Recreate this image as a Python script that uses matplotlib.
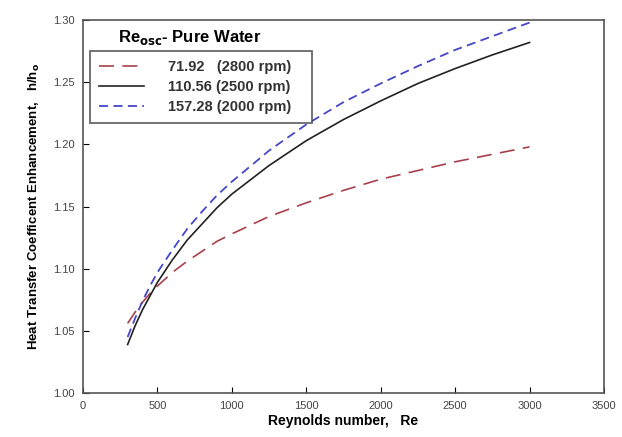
import numpy as np
import matplotlib.pyplot as plt

# Donnees
re = [300, 350, 400, 450, 500, 600, 700, 800, 900, 1000, 1250, 1500, 1750, 2000, 2250, 2500, 2750, 3000]
h_7192 = [1.056, 1.065, 1.073, 1.080, 1.086, 1.097, 1.106, 1.114, 1.122, 1.128, 1.142, 1.153, 1.163,
          1.172, 1.179, 1.186, 1.192, 1.198]
h_11056 = [1.039, 1.054, 1.067, 1.078, 1.089, 1.107, 1.123, 1.136, 1.149, 1.160, 1.183, 1.203, 1.220,
           1.235, 1.249, 1.261, 1.272, 1.282]
h_15728 = [1.045, 1.060, 1.074, 1.086, 1.097, 1.115, 1.132, 1.146, 1.159, 1.170, 1.195, 1.216, 1.234,
           1.249, 1.263, 1.276, 1.287, 1.298]
labels = ["71.92   (2800 rpm)   ", "110.56 (2500 rpm)   ", "157.28 (2000 rpm)   "]

plt.rcParams['font.family'] = ['Liberation Sans', 'DejaVu Sans']

fig = plt.figure(figsize=(6.22, 4.37), dpi=100)
ax = fig.add_axes([0.1334, 0.1007, 0.8376, 0.8533])

l1, = ax.plot(re, h_7192, color="#a8414c", lw=1.2, dashes=(9, 5))
l2, = ax.plot(re, h_11056, color="#222222", lw=1.2)
l3, = ax.plot(re, h_15728, color="#4646c8", lw=1.3, dashes=(5, 3))

ax.set_xlim(0, 3500)
ax.set_ylim(1.00, 1.30)
ax.set_xticks(np.arange(0, 3501, 500))
ax.set_yticks(np.arange(1.00, 1.301, 0.05))
ax.set_yticklabels(["%.2f" % v for v in np.arange(1.00, 1.301, 0.05)])
ax.tick_params(direction="in", length=4, width=0.8, labelsize=8, labelcolor="#444444",
               top=False, right=False, pad=6)
for s in ax.spines.values():
    s.set_color("#555555")
    s.set_linewidth(1.2)

ax.set_xlabel("Reynolds number,   Re", fontsize=10, fontweight="bold", labelpad=2)
ax.set_ylabel("Heat Transfer Coefficent Enhancement,   h/h$_\\mathbf{o}$", fontsize=9.5,
              fontweight="bold", labelpad=8)

leg = ax.legend([l1, l2, l3], labels, loc="upper left", bbox_to_anchor=(0.0134, 0.917),
                prop={'weight': 'bold', 'size': 10.5}, frameon=True, fancybox=False,
                handlelength=3.1, handletextpad=1.6, borderpad=0.62, labelspacing=0.42,
                borderaxespad=0)
leg.get_frame().set_edgecolor("#444444")
leg.get_frame().set_linewidth(1.3)
for t in leg.get_texts():
    t.set_color("#333333")

ax.text(0.067, 0.953, "Re$_\\mathbf{osc}$- Pure Water", transform=ax.transAxes, fontsize=12,
        fontweight="bold", va="center", ha="left")

fig.savefig("out.png", dpi=100)
